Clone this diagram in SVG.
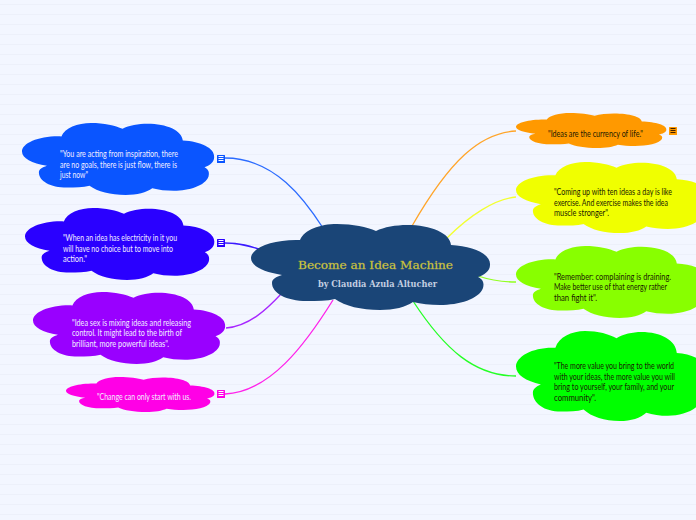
<svg xmlns="http://www.w3.org/2000/svg" width="696" height="520" viewBox="0 0 696 520">
<style>
.c{fill:none;stroke-width:1.3}
.t{font-family:"Lato","Liberation Sans Narrow",sans-serif;font-size:9.5px}
.w{fill:#f2eeff}
.d{fill:#1a1a00}
.l{stroke:#ffffff;stroke-width:1;fill:none}
.k{stroke:#402000;stroke-width:1;fill:none}
</style>
<defs>
<pattern id="bg" width="10" height="10" patternUnits="userSpaceOnUse"><rect width="10" height="10" fill="#f3f6ff"/><rect y="4" width="10" height="1" fill="#edf0fa"/></pattern>
<path id="cloud" d="M0,34C0,24 22,15 49,16C53,6 69,0 86,0C102,0 116,3 125,7C133,3 145,1 156,1C180,1 199,9 200,21C222,22 240,30 239,41C239,47 233,51 227,53C233,56 233,60 232,64C228,75 208,81 189,81C179,81 170,80 162,78C155,83 143,86 129,86C110,86 94,82 84,75C76,77 66,77 56,77C35,77 21,69 21,59C21,55 25,53 31,51C12,48 0,42 0,34Z"/>
<rect id="sq" width="8" height="8" rx="0.5"/>
<path id="bars" d="M1.5,1.5H6.5M1.5,3.5H6.5M1.5,5.5H6.5"/>
</defs>
<rect width="696" height="520" fill="url(#bg)"/>
<g id="connectors">
<path class="c" stroke="#2b6bff" d="M225,158C275,158 305,200 323,228"/>
<path class="c" stroke="#3c1aff" d="M225,243C240,243 250,246 262,250"/>
<path class="c" stroke="#a726ff" d="M226,328C250,326 268,308 282,293"/>
<path class="c" stroke="#ff20ea" d="M225,394C270,392 305,345 333,300"/>
<path class="c" stroke="#ffa52a" d="M516,131C480,133 450,160 412,226"/>
<path class="c" stroke="#f2ff30" d="M516,197C495,199 470,215 447,238"/>
<path class="c" stroke="#93ff20" d="M516,282C500,282 490,280 478,276"/>
<path class="c" stroke="#25ff25" d="M516,376C475,376 445,350 413,301"/>
</g>
<g id="center">
<use href="#cloud" fill="#1a4577" transform="translate(251,224)"/>
<text x="298" y="269" textLength="155" lengthAdjust="spacingAndGlyphs" font-family="DejaVu Serif, serif" font-size="11.5" fill="#e2da22" stroke="#a0a060" stroke-width="0.3">Become an Idea Machine</text>
<text x="318" y="287" textLength="119" lengthAdjust="spacingAndGlyphs" font-family="DejaVu Serif, serif" font-size="9.5" font-weight="bold" fill="#c4cfe2">by Claudia Azula Altucher</text>
</g>
<g id="node-inspiration">
<use href="#cloud" fill="#0a55ff" transform="translate(22,123) scale(.804,.837)"/>
<text class="t w" transform="translate(60,157) scale(.75,1)" textLength="157.3" lengthAdjust="spacingAndGlyphs">"You are acting from inspiration, there</text>
<text class="t w" transform="translate(60,168) scale(.75,1)" textLength="156" lengthAdjust="spacingAndGlyphs">are no goals, there is just flow, there is</text>
<text class="t w" transform="translate(60,178) scale(.75,1)" textLength="37.3" lengthAdjust="spacingAndGlyphs">just now"</text>
<use href="#sq" fill="#0a55ff" x="217" y="155"/><use href="#bars" class="l" x="217" y="155"/>
</g>
<g id="node-electricity">
<use href="#cloud" fill="#2a00ff" transform="translate(25,208) scale(.792,.837)"/>
<text class="t w" transform="translate(63,241) scale(.75,1)" textLength="152" lengthAdjust="spacingAndGlyphs">"When an idea has electricity in it you</text>
<text class="t w" transform="translate(63,252) scale(.75,1)" textLength="146.7" lengthAdjust="spacingAndGlyphs">will have no choice but to move into</text>
<text class="t w" transform="translate(63,262) scale(.75,1)" textLength="32" lengthAdjust="spacingAndGlyphs">action."</text>
<use href="#sq" fill="#2a00ff" x="217" y="239"/><use href="#bars" class="l" x="217" y="239"/>
</g>
<g id="node-ideasex">
<use href="#cloud" fill="#9900ff" transform="translate(33,292) scale(.804,.837)"/>
<text class="t w" transform="translate(72,326) scale(.75,1)" textLength="158.7" lengthAdjust="spacingAndGlyphs">"Idea sex is mixing ideas and releasing</text>
<text class="t w" transform="translate(72,336) scale(.75,1)" textLength="146.7" lengthAdjust="spacingAndGlyphs">control. It might lead to the birth of</text>
<text class="t w" transform="translate(72,347) scale(.75,1)" textLength="129.3" lengthAdjust="spacingAndGlyphs">brilliant, more powerful ideas".</text>
</g>
<g id="node-change">
<use href="#cloud" fill="#ff00e6" transform="translate(66,377) scale(.621,.407)"/>
<text class="t w" transform="translate(97,400) scale(.75,1)" textLength="125.3" lengthAdjust="spacingAndGlyphs">"Change can only start with us.</text>
<use href="#sq" fill="#ff00e6" x="217" y="390"/><use href="#bars" class="l" x="217" y="390"/>
</g>
<g id="node-currency">
<use href="#cloud" fill="#ff9900" transform="translate(516,113) scale(.629,.407)"/>
<text class="t d" transform="translate(548,137) scale(.75,1)" textLength="126.7" lengthAdjust="spacingAndGlyphs">"Ideas are the currency of life."</text>
<use href="#sq" fill="#ff9900" x="669" y="127"/><use href="#bars" class="k" x="669" y="127"/>
</g>
<g id="node-exercise">
<use href="#cloud" fill="#f0ff00" transform="translate(516,162) scale(.804,.826)"/>
<text class="t d" transform="translate(554,195) scale(.75,1)" textLength="157.3" lengthAdjust="spacingAndGlyphs">"Coming up with ten ideas a day is like</text>
<text class="t d" transform="translate(554,206) scale(.75,1)" textLength="152" lengthAdjust="spacingAndGlyphs">exercise. And exercise makes the idea</text>
<text class="t d" transform="translate(554,216) scale(.75,1)" textLength="73.3" lengthAdjust="spacingAndGlyphs">muscle stronger".</text>
</g>
<g id="node-remember">
<use href="#cloud" fill="#88ff00" transform="translate(516,246) scale(.804,.837)"/>
<text class="t d" transform="translate(554,280) scale(.75,1)" textLength="156" lengthAdjust="spacingAndGlyphs">"Remember: complaining is draining.</text>
<text class="t d" transform="translate(554,290) scale(.75,1)" textLength="150.7" lengthAdjust="spacingAndGlyphs">Make better use of that energy rather</text>
<text class="t d" transform="translate(554,301) scale(.75,1)" textLength="57.3" lengthAdjust="spacingAndGlyphs">than fight it".</text>
</g>
<g id="node-value">
<use href="#cloud" fill="#00ff00" transform="translate(516,331) scale(.804,1.047)"/>
<text class="t d" transform="translate(554,369) scale(.75,1)" textLength="160" lengthAdjust="spacingAndGlyphs">"The more value you bring to the world</text>
<text class="t d" transform="translate(554,380) scale(.75,1)" textLength="161.3" lengthAdjust="spacingAndGlyphs">with your ideas, the more value you will</text>
<text class="t d" transform="translate(554,390) scale(.75,1)" textLength="160" lengthAdjust="spacingAndGlyphs">bring to yourself, your family, and your</text>
<text class="t d" transform="translate(554,401) scale(.75,1)" textLength="56" lengthAdjust="spacingAndGlyphs">community".</text>
</g>
</svg>
